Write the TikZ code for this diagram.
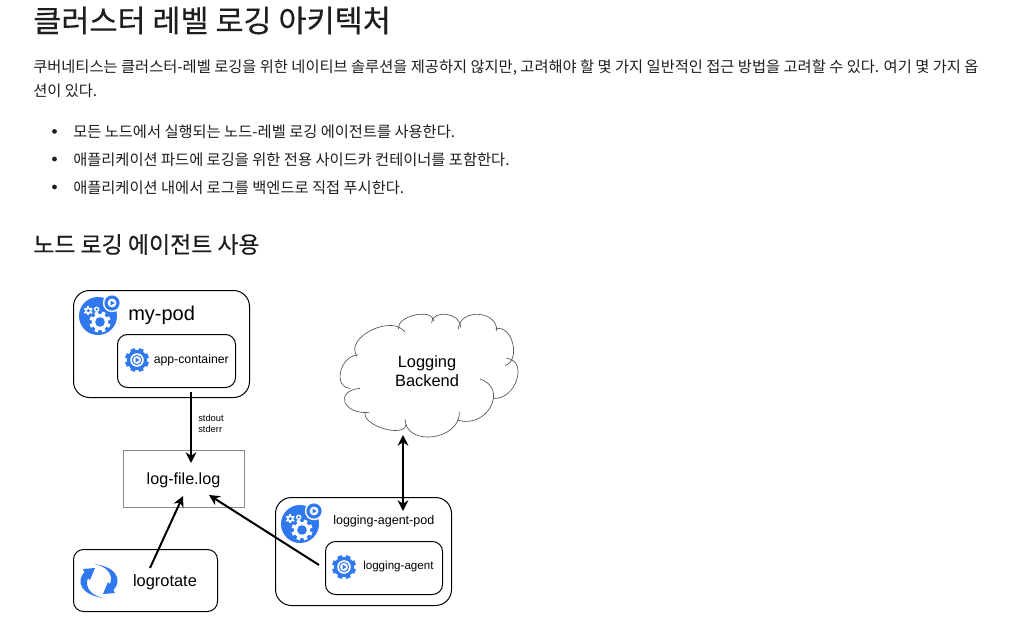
\documentclass[tikz,border=0pt]{standalone}
\usepackage{fontspec}
\setmainfont{Liberation Sans}
\newfontfamily\krfont{Noto Sans CJK KR}
\newfontfamily\krmed[FakeBold=0.35]{Noto Sans CJK KR}
\usetikzlibrary{arrows.meta,positioning}
\definecolor{ink}{HTML}{1E1E1E}
\definecolor{iconblue}{HTML}{2F78EE}
\definecolor{boxgray}{HTML}{8A8A8A}
\definecolor{cloudgray}{HTML}{555555}
\tikzset{
  px/.style={font=\fontsize{#1}{#1}\selectfont},
  heading/.style={anchor=base west,text=ink,inner sep=0pt,font=\krmed\fontsize{#1}{#1}\selectfont},
  bodytext/.style={anchor=base west,text=ink,inner sep=0pt,font=\krfont\fontsize{11.47}{12}\selectfont},
  bigbox/.style={draw=black,line width=0.75pt,rounded corners=12pt,inner sep=0pt,anchor=north west},
  smallbox/.style={draw=black,line width=0.75pt,rounded corners=7.5pt,inner sep=0pt,anchor=north west},
  label/.style={inner sep=0pt,text=black},
  flow/.style={-{Stealth[length=8pt,width=8pt]},line width=1.5pt,black},
  gearicon/.pic={
    \foreach \a in {0,45,...,315}
      \fill[iconblue,rotate=\a+22.5] (-2.4,7.5) rectangle (2.4,12);
    \fill[iconblue] (0,0) circle[radius=10.2];
    \fill[white] (0,0) circle[radius=6.8];
    \fill[iconblue] (0,0) circle[radius=5.2];
    \fill[white] (0,0) circle[radius=4];
    \fill[iconblue] (-1.5,-2.4) -- (-1.5,2.4) -- (2.6,0) -- cycle;
  },
  podicon/.pic={
    \fill[iconblue] (0,0) circle[radius=19];
    \fill[white] (14,-13) circle[radius=9.2];
    \fill[iconblue] (14,-13) circle[radius=7.6];
    \fill[white] (14,-13) circle[radius=4.4];
    \fill[iconblue] (12.6,-15.4) -- (12.6,-10.6) -- (16.8,-13) -- cycle;
    \foreach \a in {0,45,...,315}
      \fill[white,shift={(2,6)},rotate=\a+22.5] (-1.8,6) rectangle (1.8,10.6);
    \fill[white] (2,6) circle[radius=8];
    \fill[iconblue] (2,6) circle[radius=4.8];
    \foreach \a in {0,60,...,300}
      \fill[white,shift={(-9.7,-5.3)},rotate=\a] (-0.9,2.5) rectangle (0.9,4.6);
    \fill[white] (-9.7,-5.3) circle[radius=3.4];
    \fill[iconblue] (-9.7,-5.3) circle[radius=1.7];
    \fill[white] (-1.3,-6.7) circle[radius=2.7];
    \fill[iconblue] (-1.3,-6.7) circle[radius=1.3];
  },
  rotateicon/.pic={
    \foreach \a in {0,180}
      \fill[iconblue,rotate=\a] (-14.5,-9) .. controls (-23,0) and (-19,14) .. (5,17)
        .. controls (-7,15) and (-15,7) .. (-11,-3) -- (-9,-1) -- (-4,-13) -- (-16,-12) -- cycle;
  }
}
\begin{document}
\begin{tikzpicture}[x=0.75pt,y=-0.75pt]
  \useasboundingbox[fill=white] (0,0) rectangle (1032,635);
  % page text
  \node[heading=22.9] (title) at (33,32) {클러스터 레벨 로깅 아키텍처};
  \node[bodytext] (introa) at (33,73) {쿠버네티스는 클러스터-레벨 로깅을 위한 네이티브 솔루션을 제공하지 않지만, 고려해야 할 몇 가지 일반적인 접근 방법을 고려할 수 있다. 여기 몇 가지 옵};
  \node[bodytext] (introb) at (33,97) {션이 있다.};
  \foreach \n/\y/\t in {a/137.4/모든 노드에서 실행되는 노드-레벨 로깅 에이전트를 사용한다.,b/165/애플리케이션 파드에 로깅을 위한 전용 사이드카 컨테이너를 포함한다.,c/193/애플리케이션 내에서 로그를 백엔드로 직접 푸시한다.}{
    \fill[ink] (54.5,\y-6) circle[radius=2.4];
    \node[bodytext] (item\n) at (73,\y) {\t};
  }
  \node[heading=17.2] (subtitle) at (33,253) {노드 로깅 에이전트 사용};
  % boxes
  \node[bigbox,minimum width=132pt,minimum height=80.25pt] (mypod) at (73,290) {};
  \node[smallbox,minimum width=88.5pt,minimum height=39.75pt] (appbox) at (117,334) {};
  \node[draw=boxgray,line width=0.6pt,inner sep=0pt,anchor=north west,minimum width=90.75pt,minimum height=42.75pt] (logfile) at (123,450) {};
  \node[smallbox,minimum width=108pt,minimum height=46.5pt] (rotatebox) at (73,549) {};
  \node[bigbox,minimum width=132pt,minimum height=81pt] (agentpod) at (275,497) {};
  \node[smallbox,minimum width=87.75pt,minimum height=39.75pt] (agentbox) at (325,541) {};
  % cloud
  \begin{scope}[shift={(330,305)},x=0.25pt,y=-0.25pt]
    \foreach \sx/\sy/\px/\py/\ex/\ey in {80/152/125/75/225/82,205/72/255/30/312/48,305/55/350/28/392/68,385/72/445/28/500/78,497/72/548/115/525/182,530/160/560/225/490/280,450/222/482/305/383/345,388/320/310/395/225/343,228/358/165/372/105/325,118/322/45/292/90/250,62/250/32/200/85/150}
      \draw[cloudgray,line width=0.5pt] (\sx,\sy) .. controls ({\sx+1.333*(\px-0.5*\sx-0.5*\ex)},{\sy+1.333*(\py-0.5*\sy-0.5*\ey)}) and ({\ex+1.333*(\px-0.5*\sx-0.5*\ex)},{\ey+1.333*(\py-0.5*\sy-0.5*\ey)}) .. (\ex,\ey);
  \end{scope}
  % icons
  \pic at (98,316) {podicon};
  \pic at (137,360) {gearicon};
  \pic at (300,524) {podicon};
  \pic at (344,567) {gearicon};
  \pic at (99,581) {rotateicon};
  % labels
  \node[label,px=15,anchor=base west] (mypodlabel) at (128,320) {my-pod};
  \node[label,px=9.2,anchor=base west] (applabel) at (153.5,363) {app-container};
  \node[label,px=12.1,anchor=base] (logfilelabel) at (183.5,484) {log-file.log};
  \node[label,px=12.3,anchor=base] (rotatelabel) at (165,586) {logrotate};
  \node[label,px=9.4,anchor=base west] (podlabel) at (333,524) {logging-agent-pod};
  \node[label,px=8.7,anchor=base west] (agentlabel) at (363,569) {logging-agent};
  \node[label,px=12.3,anchor=base] (backenda) at (427,367) {Logging};
  \node[label,px=12.3,anchor=base] (backendb) at (427,386) {Backend};
  \node[label,px=7,anchor=base west] (stdoutlabel) at (198,421) {stdout};
  \node[label,px=7,anchor=base west] (stderrlabel) at (198,432) {stderr};
  % connectors
  \coordinate (podout) at (191,392);
  \coordinate (filein) at (191,463);
  \coordinate (rotatein) at (183,496);
  \coordinate (rotateout) at (150,568);
  \coordinate (agentin) at (209,495);
  \coordinate (agentout) at (319,565);
  \coordinate (cloudend) at (403,435);
  \coordinate (podend) at (403,511);
  \draw[flow] (podout) -- (filein);
  \draw[flow] (rotateout) -- (rotatein);
  \draw[flow] (agentout) -- (agentin);
  \draw[flow,{Stealth[length=8pt,width=8pt]}-{Stealth[length=8pt,width=8pt]}] (cloudend) -- (podend);
\end{tikzpicture}
\end{document}
